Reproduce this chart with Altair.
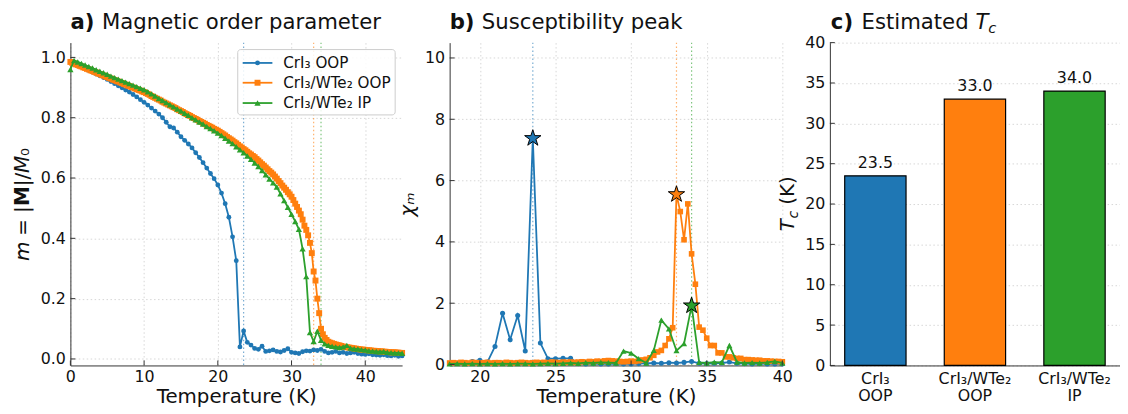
import altair as alt
import numpy as np
import pandas as pd

FONT = "DejaVu Sans"
INK = "#111111"

# ---------------- series meta ----------------
SERIES = ["CrI₃ OOP", "CrI₃/WTe₂ OOP", "CrI₃/WTe₂ IP"]
COLORS = ["#1f77b4", "#ff7f0e", "#2ca02c"]
SHAPES = ["circle", "square", "triangle-up"]
TC = [23.5, 33.0, 34.0]
PEAK_CHI = [7.38, 5.55, 1.92]
BAR_LABELS = ["CrI₃\nOOP", "CrI₃/WTe₂\nOOP", "CrI₃/WTe₂\nIP"]

# ---------------- panel a : m(T) ----------------
T_BLUE_A = np.arange(0, 45.001, 0.5)
T_ORANGE_A = np.arange(0, 45.001, 0.25)
T_GREEN_A = np.arange(0, 45.001, 0.5)

M_BLUE = [
    0.985, 0.980, 0.974, 0.969, 0.963, 0.957, 0.951, 0.945, 0.939, 0.933,
    0.927, 0.920, 0.913, 0.906, 0.899, 0.892, 0.885, 0.877, 0.869, 0.860,
    0.851, 0.842, 0.832, 0.822, 0.812, 0.800, 0.785, 0.770, 0.766, 0.752,
    0.737, 0.725, 0.713, 0.700, 0.684, 0.668, 0.651, 0.633, 0.615, 0.598,
    0.577, 0.550, 0.515, 0.470, 0.405, 0.326, 0.040, 0.093, 0.055, 0.046,
    0.035, 0.032, 0.042, 0.025, 0.027, 0.030, 0.025, 0.023, 0.028, 0.034,
    0.022, 0.020, 0.018, 0.024, 0.027, 0.026, 0.030, 0.028, 0.032, 0.025,
    0.020, 0.022, 0.025, 0.020, 0.022, 0.018, 0.020, 0.022, 0.018, 0.016,
    0.015, 0.017, 0.014, 0.013, 0.012, 0.014, 0.011, 0.010, 0.012, 0.009,
    0.010,
]

M_ORANGE = [
    # 0 .. 5
    0.985, 0.982, 0.980, 0.977, 0.975, 0.972, 0.970, 0.967, 0.965, 0.962,
    0.960, 0.957, 0.955, 0.952, 0.950, 0.947, 0.945, 0.942, 0.940, 0.937,
    0.935,
    # 5.25 .. 10
    0.932, 0.930, 0.927, 0.925, 0.922, 0.920, 0.917, 0.915, 0.912, 0.910,
    0.907, 0.905, 0.902, 0.900, 0.897, 0.895, 0.892, 0.890, 0.887, 0.885,
    # 10.25 .. 15
    0.882, 0.879, 0.876, 0.872, 0.869, 0.866, 0.863, 0.860, 0.857, 0.853,
    0.850, 0.847, 0.844, 0.841, 0.838, 0.835, 0.832, 0.828, 0.825, 0.822,
    # 15.25 .. 20
    0.819, 0.815, 0.812, 0.809, 0.806, 0.802, 0.799, 0.796, 0.793, 0.789,
    0.786, 0.783, 0.780, 0.776, 0.773, 0.770, 0.767, 0.763, 0.760, 0.757,
    # 20.25 .. 22
    0.753, 0.749, 0.745, 0.741, 0.736, 0.732, 0.728, 0.724,
    # 22.25 .. 25
    0.719, 0.715, 0.710, 0.705, 0.701, 0.696, 0.692, 0.687, 0.682, 0.678,
    0.673, 0.669,
    # 25.25 .. 27.5
    0.663, 0.658, 0.652, 0.646, 0.641, 0.635, 0.629, 0.623, 0.618, 0.612,
    # 27.75 .. 29
    0.605, 0.598, 0.590, 0.583, 0.575, 0.568,
    # 29.25 .. 30
    0.561, 0.553, 0.546, 0.538,
    # 30.25 .. 31
    0.527, 0.515, 0.504, 0.492,
    # 31.25 .. 32
    0.480, 0.462, 0.442, 0.428,
    # 32.25 .. 35
    0.410, 0.385, 0.351, 0.290, 0.260, 0.200, 0.152, 0.100, 0.082, 0.070,
    0.063, 0.057,
    # 35.25 .. 45
    0.054, 0.052, 0.050, 0.048, 0.046, 0.045, 0.043, 0.041, 0.040, 0.039,
    0.038, 0.037, 0.036, 0.035, 0.034, 0.033, 0.032, 0.031, 0.031, 0.030,
    0.029, 0.029, 0.028, 0.027, 0.027, 0.026, 0.026, 0.025, 0.025, 0.024,
    0.024, 0.023, 0.023, 0.022, 0.022, 0.022, 0.021, 0.021, 0.020, 0.020,
]

M_GREEN = [
    0.960, 0.990, 0.985, 0.980, 0.975, 0.970, 0.965, 0.959, 0.954, 0.949,
    0.944, 0.938, 0.933, 0.928, 0.923, 0.918, 0.913, 0.908, 0.903, 0.898,
    0.893,
    0.886, 0.879, 0.872, 0.864, 0.857, 0.850, 0.843, 0.836, 0.829, 0.822,
    0.815, 0.808, 0.800, 0.793, 0.786, 0.779, 0.771, 0.764, 0.757, 0.749,
    0.741, 0.732, 0.723, 0.714, 0.704, 0.694, 0.684, 0.673, 0.662, 0.650,
    0.638, 0.625, 0.611, 0.597, 0.584, 0.570, 0.548, 0.525, 0.503, 0.480,
    0.456, 0.430, 0.365, 0.273, 0.088, 0.058, 0.092, 0.062, 0.050, 0.045,
    0.042, 0.040, 0.038, 0.040, 0.045, 0.036, 0.034, 0.033, 0.031, 0.030,
    0.027, 0.026, 0.025, 0.024, 0.025, 0.022, 0.021, 0.020, 0.020, 0.019,
]

# ---------------- panel b : chi(T) ----------------
T_BLUE_B = np.arange(18, 40.001, 0.5)
T_ORANGE_B = np.arange(18, 40.001, 0.25)
T_GREEN_B = np.arange(18, 40.001, 0.5)

CHI_BLUE = [
    0.03, 0.04, 0.06, 0.10, 0.14, 0.08, 0.59, 1.67, 0.81, 1.60,
    0.44, 7.38, 0.70, 0.19, 0.19, 0.20, 0.20, 0.03, 0.02, 0.03,
    0.02, 0.02, 0.03, 0.02, 0.02, 0.03, 0.04, 0.05, 0.04, 0.06,
    0.05, 0.07, 0.10, 0.04, 0.03, 0.04, 0.05, 0.08, 0.04, 0.03,
    0.02, 0.03, 0.02, 0.02, 0.02,
]

CHI_ORANGE = [
    0.05, 0.06, 0.05, 0.07, 0.06, 0.05, 0.07, 0.06, 0.05, 0.06,
    0.07, 0.05, 0.06, 0.06, 0.05, 0.07, 0.06, 0.05, 0.06, 0.07,
    0.06, 0.05, 0.06, 0.07, 0.06, 0.07, 0.06, 0.08, 0.07, 0.06,
    0.08, 0.07, 0.08, 0.07, 0.08, 0.09, 0.08, 0.10, 0.09, 0.11,
    0.10, 0.12, 0.13, 0.12, 0.11, 0.10, 0.09, 0.10, 0.11, 0.10,
    0.12, 0.15, 0.17,
    0.22, 0.30, 0.41, 0.46, 0.62, 0.84, 1.20, 5.55, 4.99, 4.07,
    5.24, 3.61, 2.62, 1.22, 1.12, 0.86, 0.62, 0.62, 0.38, 0.38,
    0.25, 0.25, 0.22, 0.20, 0.20, 0.16, 0.16, 0.15, 0.14, 0.14,
    0.12, 0.12, 0.11, 0.10, 0.10, 0.09,
]

CHI_GREEN = [
    0.02, 0.03, 0.02, 0.03, 0.02, 0.03, 0.02, 0.03, 0.02, 0.03,
    0.03, 0.02, 0.03, 0.04, 0.03, 0.04, 0.05, 0.04, 0.06, 0.05,
    0.07, 0.06, 0.05, 0.44, 0.37, 0.19, 0.05, 0.46, 1.45, 1.16,
    0.45, 0.68, 1.92, 0.07, 0.05, 0.08, 0.07, 0.62, 0.08, 0.05,
    0.06, 0.05, 0.07, 0.10, 0.05,
]

# ---------------- ticks ----------------
XTICKS_A = [0, 10, 20, 30, 40]
YTICKS_A = [0.0, 0.2, 0.4, 0.6, 0.8, 1.0]
XTICKS_B = [20, 25, 30, 35, 40]
YTICKS_B = [0, 2, 4, 6, 8, 10]
YTICKS_C = [0, 5, 10, 15, 20, 25, 30, 35, 40]

W_A, W_B, W_C, H = 335, 336, 293, 326
TITLE_SIZE = 21.4
STAR = ("M0,-1L0.2245,-0.309L0.9511,-0.309L0.3633,0.118L0.5878,0.809L0,0.382"
        "L-0.5878,0.809L-0.3633,0.118L-0.9511,-0.309L-0.2245,-0.309Z")

one = pd.DataFrame({"k": [0]})


def txt(s, x, y, size, weight="normal", style="normal", angle=0,
        align="left", baseline="alphabetic"):
    return alt.Chart(pd.DataFrame({"s": [s]})).mark_text(
        align=align, baseline=baseline, fontSize=size, fontWeight=weight,
        fontStyle=style, angle=angle, color=INK, font=FONT
    ).encode(text="s:N", x=alt.value(x), y=alt.value(y))


def series(T, V, color, shape, size, X, Y):
    df = pd.DataFrame({"T": T, "v": V})
    base = alt.Chart(df).encode(x=X("T"), y=Y("v"))
    return [
        base.mark_line(color=color, strokeWidth=1.8),
        base.mark_point(shape=shape, filled=True, color=color, size=size, opacity=1),
    ]


def tc_rules(X):
    df = pd.DataFrame({"Tc": TC, "series": SERIES})
    return alt.Chart(df).mark_rule(strokeWidth=1.2, strokeDash=[1.5, 2.5], opacity=0.6).encode(
        x=X("Tc"),
        stroke=alt.Stroke("series:N", scale=alt.Scale(domain=SERIES, range=COLORS), legend=None),
    )


def tick_rules(xvals, yvals, X, Y):
    out = []
    if xvals is not None:
        out.append(alt.Chart(pd.DataFrame({"t": xvals})).mark_rule(color="#333333", strokeWidth=1).encode(
            x=X("t"), y=alt.value(H - 5), y2=alt.value(H)))
    if yvals is not None:
        out.append(alt.Chart(pd.DataFrame({"t": yvals})).mark_rule(color="#333333", strokeWidth=1).encode(
            y=Y("t"), x=alt.value(0), x2=alt.value(5)))
    return out


# ================= Panel a =================
XS_A = alt.Scale(domain=[0, 45], nice=False, zero=False)
YS_A = alt.Scale(domain=[-0.0215, 1.049], nice=False, zero=False)
AX_XA = alt.Axis(values=XTICKS_A, title="Temperature (K)", format="d", grid=True,
                 labelPadding=3.5, titlePadding=1.5)
AX_YA = alt.Axis(values=YTICKS_A, title="𝘮 = |𝗠|/𝘔₀", format=".1f", grid=True, titlePadding=8)
XA = lambda f: alt.X(f"{f}:Q", scale=XS_A, axis=AX_XA)
YA = lambda f: alt.Y(f"{f}:Q", scale=YS_A, axis=AX_YA)

layers_a = [tc_rules(XA)]
layers_a += series(T_BLUE_A, M_BLUE, COLORS[0], SHAPES[0], 24, XA, YA)
layers_a += series(T_ORANGE_A, M_ORANGE, COLORS[1], SHAPES[1], 36, XA, YA)
layers_a += series(T_GREEN_A, M_GREEN, COLORS[2], SHAPES[2], 40, XA, YA)
# legend
layers_a.append(alt.Chart(one).mark_rect(fill="white", fillOpacity=0.85, stroke="#cccccc",
                                          strokeWidth=1, cornerRadius=3).encode(
    x=alt.value(169), x2=alt.value(328), y=alt.value(7), y2=alt.value(73)))
LEG_Y = [20.5, 40.5, 61]
for i in range(3):
    layers_a.append(alt.Chart(one).mark_rule(color=COLORS[i], strokeWidth=1.8).encode(
        x=alt.value(174), x2=alt.value(204), y=alt.value(LEG_Y[i])))
    layers_a.append(alt.Chart(one).mark_point(shape=SHAPES[i], filled=True, color=COLORS[i],
                                              size=[24, 36, 40][i], opacity=1).encode(
        x=alt.value(189), y=alt.value(LEG_Y[i])))
    layers_a.append(txt(SERIES[i], 215, LEG_Y[i], 15.3, baseline="middle"))
layers_a += tick_rules(XTICKS_A, YTICKS_A, XA, YA)
layers_a.append(txt("a)", 0, -14, TITLE_SIZE, weight="bold"))
layers_a.append(txt("Magnetic order parameter", 32, -14, TITLE_SIZE))
panel_a = alt.layer(*layers_a).properties(width=W_A, height=H)

# ================= Panel b =================
XS_B = alt.Scale(domain=[18, 40], nice=False, zero=False)
YS_B = alt.Scale(domain=[-0.03, 10.5], nice=False, zero=False)
AX_XB = alt.Axis(values=XTICKS_B, title="Temperature (K)", format="d", grid=True,
                 labelPadding=3.5, titlePadding=1.5)
AX_YB = alt.Axis(values=YTICKS_B, title="χₘ", titleFontStyle="italic", format="d", grid=True, titlePadding=7)
XB = lambda f: alt.X(f"{f}:Q", scale=XS_B, axis=AX_XB)
YB = lambda f: alt.Y(f"{f}:Q", scale=YS_B, axis=AX_YB)

layers_b = [tc_rules(XB)]
layers_b += series(T_BLUE_B, CHI_BLUE, COLORS[0], SHAPES[0], 26, XB, YB)
layers_b += series(T_ORANGE_B, CHI_ORANGE, COLORS[1], SHAPES[1], 32, XB, YB)
layers_b += series(T_GREEN_B, CHI_GREEN, COLORS[2], SHAPES[2], 38, XB, YB)
peaks = pd.DataFrame({"Tc": TC, "chi": PEAK_CHI, "series": SERIES})
layers_b.append(alt.Chart(peaks).mark_point(shape=STAR, filled=True, size=300, stroke="black",
                                            strokeWidth=1, opacity=1).encode(
    x=XB("Tc"), y=YB("chi"),
    fill=alt.Fill("series:N", scale=alt.Scale(domain=SERIES, range=COLORS), legend=None)))
layers_b += tick_rules(XTICKS_B, YTICKS_B, XB, YB)
layers_b.append(txt("b)", 0, -14, TITLE_SIZE, weight="bold"))
layers_b.append(txt("Susceptibility peak", 32.5, -14, TITLE_SIZE))
panel_b = alt.layer(*layers_b).properties(width=W_B, height=H)

# ================= Panel c =================
YS_C = alt.Scale(domain=[0, 40], nice=False, zero=True)
AX_YC = alt.Axis(values=YTICKS_C, title=None, format="d", grid=True)
XC = alt.X("label:N", sort=None, scale=alt.Scale(paddingInner=0.384, paddingOuter=0.149),
           axis=alt.Axis(title=None, labelAngle=0, grid=False, labelExpr="split(datum.label, '\\n')",
                         labelLineHeight=17, labelPadding=5))
YC = lambda f: alt.Y(f"{f}:Q", scale=YS_C, axis=AX_YC)
bars_df = pd.DataFrame({"label": BAR_LABELS, "Tc": TC})
layers_c = [
    alt.Chart(bars_df).mark_bar(stroke="black", strokeWidth=1.2, opacity=1).encode(
        x=XC, y=YC("Tc"),
        fill=alt.Fill("label:N", scale=alt.Scale(domain=BAR_LABELS, range=COLORS), legend=None)),
    alt.Chart(bars_df).mark_text(baseline="alphabetic", dy=-8, fontSize=16, color=INK, font=FONT).encode(
        x=XC, y=YC("Tc"), text=alt.Text("Tc:Q", format=".1f")),
]
layers_c += tick_rules(None, YTICKS_C, None, YC)
layers_c.append(txt("c)", 1, -14, TITLE_SIZE, weight="bold"))
layers_c.append(txt("Estimated", 32, -14, TITLE_SIZE))
layers_c.append(txt("T", 147, -14, TITLE_SIZE, style="italic"))
layers_c.append(txt("c", 160, -9.5, 14.8, style="italic"))
layers_c.append(txt("T", -36, 190.4, 20, style="italic", angle=270))
layers_c.append(txt("c", -32, 177.7, 14, style="italic", angle=270))
layers_c.append(txt("(K)", -36, 163.6, 20, angle=270))
panel_c = alt.layer(*layers_c).properties(width=W_C, height=H)

chart = alt.hconcat(panel_a, panel_b, panel_c, spacing=48, bounds="flush").properties(
    padding={"left": 4, "top": 2, "right": 0, "bottom": 0}
).configure(font=FONT).configure_view(stroke=None).configure_axis(
    domainColor="#333333", domainWidth=1, labelColor=INK, titleColor=INK,
    labelFont=FONT, titleFont=FONT, labelFontSize=16, titleFontSize=20,
    titleFontWeight="normal", ticks=False, gridColor="#cccccc", gridDash=[1.5, 2.5],
    gridWidth=0.8, labelPadding=5, labelFlush=False, labelOverlap=False,
)

chart.save("out.html", embed_options={"renderer": "svg", "actions": False})
